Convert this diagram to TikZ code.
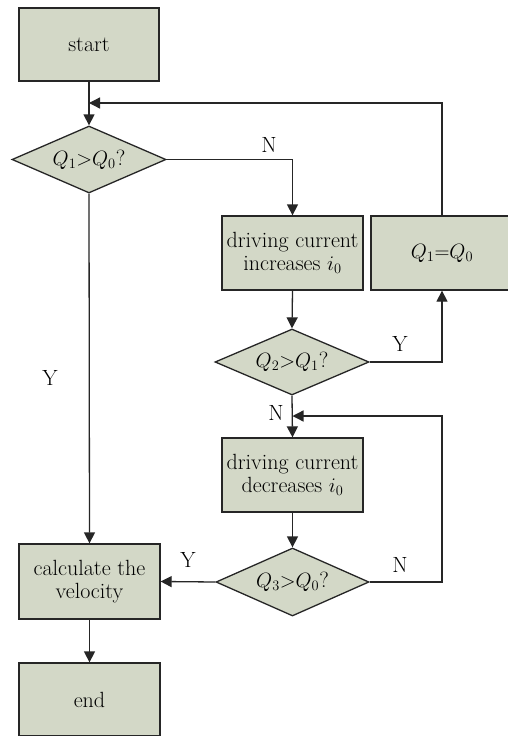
\documentclass[tikz,border=0pt]{standalone}
\usetikzlibrary{shapes.geometric,arrows.meta}
\definecolor{boxfill}{RGB}{211,216,199}
\begin{document}
\begin{tikzpicture}[x=1pt,y=-1pt,
  font=\fontsize{22}{23}\selectfont,
  box/.style={draw=black!85,line width=1.3pt,fill=boxfill,rectangle,inner sep=0pt,align=center},
  dia/.style={draw=black!85,line width=1.3pt,fill=boxfill,diamond,inner sep=0pt,aspect=2.3},
  conn/.style={line width=1.3pt,draw=black!85},
  arr/.style={conn,-{Triangle[length=11pt,width=11pt]}},
  lbl/.style={inner sep=0pt}]
\useasboundingbox[fill=white] (0,0) rectangle (508,736);
\node[box,minimum width=140pt,minimum height=73pt] (start) at (89,44.5) {start};
\node[dia,minimum width=154pt,minimum height=67pt] (d1) at (89,159.5) {$Q_1{>}Q_0$?};
\node[box,minimum width=141pt,minimum height=74pt] (b2) at (292.5,253) {driving current\\increases $i_0$};
\node[box,minimum width=142pt,minimum height=74pt] (b3) at (442,253) {$Q_1{=}Q_0$};
\node[dia,minimum width=154pt,minimum height=66pt] (d2) at (292,362) {$Q_2{>}Q_1$?};
\node[box,minimum width=141pt,minimum height=74pt] (b4) at (292.5,475) {driving current\\decreases $i_0$};
\node[dia,minimum width=153pt,minimum height=68pt] (d3) at (292.5,582) {$Q_3{>}Q_0$?};
\node[box,minimum width=141pt,minimum height=75pt] (b5) at (89.5,581.5) {calculate the\\velocity};
\node[box,minimum width=141pt,minimum height=73pt] (end) at (89.5,699.5) {end};
\coordinate (fb1) at (89,103);
\coordinate (fb2) at (292.5,416);
\draw[arr] (start.south) -- (d1.north);
\draw[arr] (b3.north) |- (fb1);
\draw[arr] (d1.east) -| (b2.north);
\draw[arr] (b2.south) -- (d2.north);
\draw[arr] (d2.east) -| (b3.south);
\draw[arr] (d2.south) -- (b4.north);
\draw[arr] (d3.east) -| (b3.south |- fb2) -- (fb2);
\draw[arr] (b4.south) -- (d3.north);
\draw[arr] (d3.west) -- (b5.east);
\draw[arr] (d1.south) -- (b5.north);
\draw[arr] (b5.south) -- (end.north);
\node[lbl] (n1) at (269,145) {N};
\node[lbl] (y1) at (400,344) {Y};
\node[lbl] (n2) at (276,413) {N};
\node[lbl] (n3) at (400,565) {N};
\node[lbl] (y2) at (188,560) {Y};
\node[lbl] (y3) at (50,378) {Y};
\end{tikzpicture}
\end{document}
